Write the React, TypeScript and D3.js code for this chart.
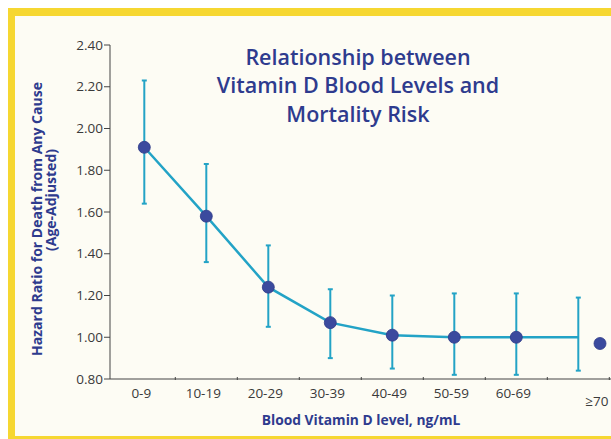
import React from "react";
import * as d3 from "d3";

const categories = ["0-9", "10-19", "20-29", "30-39", "40-49", "50-59", "60-69"];
const lastCategory = "≥70";
const hazard = [1.91, 1.58, 1.24, 1.07, 1.01, 1.0, 1.0];
const ciHigh = [2.23, 1.83, 1.44, 1.23, 1.2, 1.21, 1.21];
const ciLow = [1.64, 1.36, 1.05, 0.9, 0.85, 0.82, 0.82];
// extra error bar (line end) and the ≥70 point
const tailValue = 1.0;
const tailHigh = 1.19;
const tailLow = 0.84;
const over70Value = 0.97;
const yTicks = [0.8, 1.0, 1.2, 1.4, 1.6, 1.8, 2.0, 2.2, 2.4];
const titleLines = ["Relationship between", "Vitamin D Blood Levels and", "Mortality Risk"];
const yTitleLines = ["Hazard Ratio for Death from Any Cause", "(Age-Adjusted)"];
const xTitle = "Blood Vitamin D level, ng/mL";

const W = 611;
const H = 439;
const BLUE = "#2e3b8e";
const TEAL = "#23a3c6";
const DOT = "#3b4a9e";
const FONT = "'Open Sans', 'Noto Sans', sans-serif";

export default function App() {
  const x = d3.scaleLinear().domain([0, 7]).range([144.3, 578.3]);
  const y = d3.scaleLinear().domain([0.8, 2.4]).range([379, 45]);
  const axisX0 = 110;

  const linePts: [number, number][] = hazard.map((v, i) => [x(i), y(v)]);
  linePts.push([x(7), y(tailValue)]);
  const line = d3.line()(linePts) || "";

  const bars = ciHigh.map((h, i) => ({ x: x(i), hi: h, lo: ciLow[i] }));
  bars.push({ x: x(7), hi: tailHigh, lo: tailLow });

  const xTickPos = d3.range(0, 8).map((i) => i + 0.5);

  return (
    <svg
      width={W}
      height={H}
      style={{ position: "absolute", left: 0, top: 0 }}
      fontFamily={FONT}
    >
      <rect x={0} y={0} width={W} height={H} fill="#ffffff" />
      <rect x={8} y={8} width={W} height={H} fill="#f6d731" />
      <rect x={15} y={16} width={W} height={420} fill="#fdfcf4" />

      {/* title */}
      <text textAnchor="middle" fill={BLUE} fontSize={21.5} fontWeight={600}>
        {titleLines.map((t, i) => (
          <tspan key={i} x={358} y={65 + i * 28.3}>
            {t}
          </tspan>
        ))}
      </text>

      {/* y axis */}
      <line x1={axisX0} x2={axisX0} y1={y(2.4)} y2={y(0.8)} stroke="#444" strokeWidth={1} />
      {yTicks.map((t) => (
        <g key={t}>
          <line x1={axisX0 - 6} x2={axisX0} y1={y(t)} y2={y(t)} stroke="#444" strokeWidth={1} />
          <text x={axisX0 - 7} y={y(t) + 4.5} textAnchor="end" fontSize={13.5} fill="#3a3a3a">
            {t.toFixed(2)}
          </text>
        </g>
      ))}

      {/* x axis */}
      <line x1={axisX0} x2={W} y1={y(0.8)} y2={y(0.8)} stroke="#444" strokeWidth={1} />
      {xTickPos.map((p) => (
        <line key={p} x1={x(p)} x2={x(p)} y1={y(0.8) - 2} y2={y(0.8) + 1} stroke="#444" strokeWidth={1} />
      ))}
      {categories.map((c, i) => (
        <text key={c} x={x(i) - 3} y={398} textAnchor="middle" fontSize={13.5} fill="#3a3a3a">
          {c}
        </text>
      ))}
      <text x={x(7) + 7} y={406} textAnchor="start" fontSize={13.5} fill="#3a3a3a">
        {lastCategory}
      </text>

      {/* axis titles */}
      <text x={361} y={425} textAnchor="middle" fontSize={13.8} fontWeight={700} fill={BLUE}>
        {xTitle}
      </text>
      <text
        transform="translate(42,219) rotate(-90)"
        textAnchor="middle"
        fontSize={14}
        fontWeight={700}
        fill={BLUE}
      >
        {yTitleLines[0]}
      </text>
      <text
        transform="translate(56,200) rotate(-90)"
        textAnchor="middle"
        fontSize={14}
        fontWeight={700}
        fill={BLUE}
      >
        {yTitleLines[1]}
      </text>

      {/* error bars */}
      {bars.map((b, i) => (
        <g key={i} stroke={TEAL} strokeWidth={2}>
          <line x1={b.x} x2={b.x} y1={y(b.hi)} y2={y(b.lo)} />
          <line x1={b.x - 2.5} x2={b.x + 2.5} y1={y(b.hi)} y2={y(b.hi)} />
          <line x1={b.x - 2.5} x2={b.x + 2.5} y1={y(b.lo)} y2={y(b.lo)} />
        </g>
      ))}

      {/* line */}
      <path d={line} fill="none" stroke={TEAL} strokeWidth={2.5} />

      {/* dots */}
      {hazard.map((v, i) => (
        <circle key={i} cx={x(i)} cy={y(v)} r={6} fill={DOT} stroke="#2e3a88" strokeWidth={0.8} />
      ))}
      <circle cx={x(7.35)} cy={y(over70Value)} r={6} fill={DOT} stroke="#2e3a88" strokeWidth={0.8} />
    </svg>
  );
}
